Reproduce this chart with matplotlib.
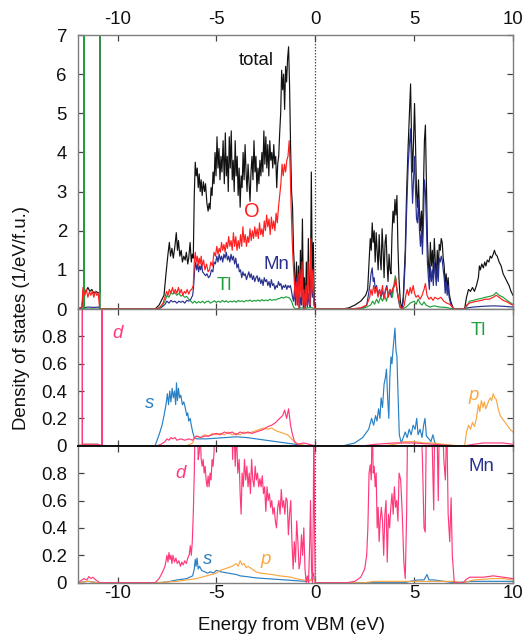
import numpy as np
import matplotlib
matplotlib.use("Agg")
import matplotlib.pyplot as plt

plt.rcParams['font.family'] = ['Liberation Sans', 'DejaVu Sans']
plt.rcParams['axes.unicode_minus'] = False

FS = 13.4

# ---------------- data (energy eV, DOS) ----------------
total = [(-12.0, 0.0), (-11.8, 0.05), (-11.72, 0.5), (-11.70, 0.5), (-11.70, 9.0), (-11.70, 0.5), (-11.6, 0.45), (-11.5, 0.55),
         (-11.4, 0.45), (-11.3, 0.5), (-11.2, 0.4), (-11.1, 0.45), (-11.0, 0.42), (-10.90, 0.4), (-10.90, 9.0),
         (-10.90, 0.0),
         (-8.10, 0.0), (-7.9, 0.1), (-7.75, 0.25), (-7.65, 0.35), (-7.55, 0.9), (-7.45, 1.4),
         (-7.38, 1.7), (-7.32, 1.35), (-7.25, 1.55), (-7.18, 1.3), (-7.10, 1.6), (-7.03, 1.95),
         (-6.97, 1.5), (-6.92, 1.75), (-6.85, 1.35), (-6.78, 1.5), (-6.72, 1.2), (-6.65, 1.35),
         (-6.58, 1.25), (-6.52, 1.45), (-6.45, 1.15), (-6.40, 1.3), (-6.33, 1.7), (-6.27, 1.2),
         (-6.22, 1.4), (-6.17, 1.3), (-6.12, 2.9), (-6.07, 3.75), (-6.02, 3.4), (-5.97, 3.6),
         (-5.92, 3.1), (-5.87, 3.45), (-5.82, 3.0), (-5.77, 3.3), (-5.72, 2.9), (-5.66, 3.25),
         (-5.60, 3.0), (-5.55, 3.2), (-5.48, 2.7), (-5.42, 2.5), (-5.37, 2.7), (-5.32, 2.55),
         (-5.27, 3.1), (-5.22, 2.9), (-5.17, 3.5), (-5.12, 3.2), (-5.07, 4.0), (-5.02, 3.4),
         (-4.97, 4.4), (-4.92, 3.6), (-4.87, 4.1), (-4.82, 3.3), (-4.77, 3.9), (-4.72, 3.5),
         (-4.66, 4.3), (-4.60, 3.2), (-4.55, 4.5), (-4.50, 3.4), (-4.45, 3.9), (-4.40, 3.0),
         (-4.35, 4.4), (-4.30, 3.6), (-4.25, 4.55), (-4.20, 3.3), (-4.15, 3.8), (-4.10, 3.0),
         (-4.05, 4.3), (-4.00, 3.4), (-3.95, 3.9), (-3.90, 2.9), (-3.85, 3.6), (-3.80, 2.6),
         (-3.75, 3.4), (-3.70, 3.1), (-3.65, 4.0), (-3.60, 3.3), (-3.55, 4.2), (-3.50, 3.5),
         (-3.45, 3.0), (-3.40, 3.7), (-3.35, 3.2), (-3.30, 2.75), (-3.25, 3.5), (-3.20, 3.9),
         (-3.15, 3.3), (-3.10, 4.3), (-3.05, 3.5), (-3.00, 3.9), (-2.95, 3.0), (-2.90, 3.6),
         (-2.85, 3.2), (-2.80, 3.8), (-2.75, 3.4), (-2.70, 4.0), (-2.65, 3.5), (-2.60, 4.55),
         (-2.55, 3.7), (-2.50, 4.4), (-2.45, 3.6), (-2.40, 4.2), (-2.35, 3.4), (-2.30, 4.3),
         (-2.25, 3.8), (-2.20, 4.0), (-2.15, 3.6), (-2.10, 4.2), (-2.05, 3.7), (-2.00, 3.9),
         (-1.95, 3.1), (-1.90, 3.7), (-1.85, 3.9), (-1.80, 4.5), (-1.75, 5.0), (-1.70, 6.1),
         (-1.65, 5.6), (-1.60, 6.0), (-1.55, 5.1), (-1.50, 6.2), (-1.45, 5.8), (-1.40, 6.4),
         (-1.35, 6.7), (-1.30, 5.7), (-1.25, 4.2), (-1.20, 3.0), (-1.15, 2.6), (-1.10, 1.5),
         (-1.05, 1.0), (-1.00, 0.3), (-0.95, 1.2), (-0.90, 0.2), (-0.85, 1.1), (-0.80, 0.0),
         (-0.75, 1.5), (-0.70, 0.5), (-0.65, 2.3), (-0.60, 0.2), (-0.55, 0.8), (-0.50, 0.0),
         (-0.45, 1.2), (-0.40, 0.1), (-0.35, 1.8), (-0.30, 0.5), (-0.25, 0.2), (-0.20, 3.5),
         (-0.15, 0.8), (-0.10, 1.7), (-0.05, 0.2), (0.00, 0.0),
         (1.40, 0.0), (1.7, 0.03), (2.0, 0.1), (2.3, 0.2), (2.55, 0.35), (2.65, 0.5), (2.72, 1.2),
         (2.78, 1.8), (2.83, 1.5), (2.88, 2.2), (2.93, 1.7), (2.98, 2.0), (3.03, 1.2), (3.08, 1.95),
         (3.13, 1.5), (3.18, 1.0), (3.23, 1.9), (3.28, 1.3), (3.33, 1.0), (3.38, 2.05), (3.43, 1.5),
         (3.48, 0.8), (3.53, 1.7), (3.58, 1.9), (3.63, 1.2), (3.68, 0.7), (3.73, 1.4), (3.78, 1.0),
         (3.83, 0.9), (3.88, 1.9), (3.93, 2.5), (3.98, 2.2), (4.03, 2.8), (4.08, 2.4), (4.13, 2.9),
         (4.18, 1.6), (4.23, 0.8), (4.30, 0.2), (4.38, 0.0), (4.45, 0.3), (4.55, 1.5), (4.62, 3.0),
         (4.70, 4.2), (4.76, 5.0), (4.82, 5.75), (4.87, 4.3), (4.92, 3.5), (4.97, 4.3), (5.02, 5.25),
         (5.07, 4.2), (5.12, 3.0), (5.17, 2.6), (5.22, 3.3), (5.27, 2.5), (5.32, 2.0), (5.37, 2.5),
         (5.42, 1.8), (5.47, 3.0), (5.52, 4.3), (5.57, 4.7), (5.62, 3.2), (5.67, 1.8), (5.72, 1.2),
         (5.77, 0.8), (5.82, 1.7), (5.87, 1.1), (5.92, 1.5), (5.97, 0.9), (6.02, 1.8), (6.07, 1.2),
         (6.12, 0.8), (6.17, 1.5), (6.22, 1.0), (6.27, 1.65), (6.32, 1.5), (6.37, 1.8), (6.42, 1.7),
         (6.47, 1.3), (6.52, 1.1), (6.57, 0.6), (6.62, 0.9), (6.67, 0.5), (6.72, 0.8), (6.77, 0.4),
         (6.85, 0.2), (6.95, 0.05), (7.00, 0.0), (7.55, 0.0), (7.65, 0.3), (7.75, 0.5), (7.85, 0.45),
         (7.95, 0.55), (8.05, 0.45), (8.15, 0.6), (8.25, 0.8), (8.30, 1.1), (8.35, 1.0), (8.42, 1.15),
         (8.50, 1.05), (8.57, 1.2), (8.63, 1.1), (8.70, 1.25), (8.78, 1.2), (8.85, 1.35), (8.92, 1.3),
         (9.00, 1.4), (9.06, 1.5), (9.12, 1.4), (9.20, 1.35), (9.30, 1.2), (9.40, 1.1), (9.50, 0.9),
         (9.60, 0.8), (9.70, 0.7), (9.80, 0.6), (9.90, 0.45), (10.0, 0.35)]

oxygen = [(-12.0, 0.0), (-11.8, 0.05), (-11.75, 0.55), (-11.65, 0.35), (-11.58, 0.5), (-11.5, 0.3),
          (-11.42, 0.45), (-11.35, 0.35), (-11.28, 0.45), (-11.2, 0.3), (-11.12, 0.45), (-11.05, 0.35),
          (-10.98, 0.4), (-10.9, 0.0),
          (-8.0, 0.0), (-7.85, 0.05), (-7.70, 0.15), (-7.60, 0.3), (-7.52, 0.45), (-7.45, 0.35),
          (-7.38, 0.5), (-7.30, 0.4), (-7.22, 0.55), (-7.15, 0.4), (-7.08, 0.5), (-7.00, 0.4),
          (-6.92, 0.55), (-6.85, 0.4), (-6.78, 0.5), (-6.70, 0.35), (-6.62, 0.45), (-6.55, 0.4),
          (-6.48, 0.5), (-6.40, 0.38), (-6.32, 0.48), (-6.25, 0.5), (-6.17, 0.6), (-6.12, 1.2),
          (-6.07, 1.45), (-6.02, 1.2), (-5.97, 1.35), (-5.92, 1.1), (-5.87, 1.3), (-5.82, 1.15),
          (-5.77, 1.35), (-5.72, 1.1), (-5.65, 1.25), (-5.58, 1.0), (-5.50, 1.15), (-5.42, 0.95),
          (-5.35, 1.0), (-5.28, 1.2), (-5.20, 1.1), (-5.12, 1.45), (-5.05, 1.35), (-4.98, 1.6),
          (-4.92, 1.4), (-4.86, 1.55), (-4.80, 1.45), (-4.74, 1.7), (-4.68, 1.5), (-4.62, 1.65),
          (-4.56, 1.45), (-4.50, 1.7), (-4.44, 1.55), (-4.38, 1.85), (-4.32, 1.6), (-4.26, 1.75),
          (-4.20, 1.5), (-4.14, 1.95), (-4.08, 1.6), (-4.02, 1.85), (-3.96, 1.5), (-3.90, 1.75),
          (-3.84, 1.55), (-3.78, 1.9), (-3.72, 1.6), (-3.66, 2.1), (-3.60, 1.7), (-3.54, 1.9),
          (-3.48, 1.6), (-3.42, 1.85), (-3.36, 1.7), (-3.30, 2.05), (-3.24, 1.75), (-3.18, 2.0),
          (-3.12, 1.8), (-3.06, 2.1), (-3.00, 1.85), (-2.94, 2.05), (-2.88, 1.8), (-2.82, 2.2),
          (-2.76, 1.9), (-2.70, 2.05), (-2.64, 1.85), (-2.58, 2.25), (-2.52, 2.0), (-2.46, 2.4),
          (-2.40, 2.1), (-2.34, 2.3), (-2.28, 1.9), (-2.22, 2.35), (-2.16, 2.05), (-2.10, 2.25),
          (-2.04, 2.0), (-1.98, 2.45), (-1.92, 2.2), (-1.86, 2.6), (-1.80, 2.9), (-1.74, 3.2),
          (-1.68, 3.7), (-1.62, 3.4), (-1.56, 3.7), (-1.50, 3.5), (-1.44, 3.8), (-1.38, 3.9),
          (-1.32, 4.3), (-1.27, 3.6), (-1.22, 2.6), (-1.17, 1.8), (-1.12, 1.2), (-1.07, 0.8),
          (-1.02, 0.3), (-0.97, 0.7), (-0.92, 0.1), (-0.87, 0.9), (-0.82, 0.0), (-0.77, 1.0),
          (-0.72, 0.3), (-0.67, 1.2), (-0.62, 0.1), (-0.57, 0.5), (-0.52, 0.0), (-0.47, 0.6),
          (-0.42, 0.1), (-0.37, 1.2), (-0.32, 0.3), (-0.27, 0.1), (-0.22, 1.8), (-0.17, 0.4),
          (-0.12, 1.0), (-0.07, 0.1), (0.0, 0.0),
          (1.8, 0.0), (2.3, 0.03), (2.6, 0.1), (2.75, 0.3), (2.82, 0.5), (2.88, 0.35), (2.95, 0.6),
          (3.02, 0.4), (3.10, 0.55), (3.17, 0.3), (3.25, 0.5), (3.32, 0.35), (3.40, 0.6), (3.47, 0.25),
          (3.55, 0.45), (3.62, 0.55), (3.70, 0.3), (3.78, 0.5), (3.85, 0.4), (3.93, 0.55), (4.00, 0.6),
          (4.07, 0.8), (4.13, 0.5), (4.20, 0.3), (4.30, 0.05), (4.40, 0.0), (4.50, 0.1), (4.58, 0.35),
          (4.65, 0.5), (4.72, 0.35), (4.80, 0.55), (4.87, 0.4), (4.95, 0.6), (5.02, 0.4), (5.10, 0.3),
          (5.20, 0.35), (5.30, 0.25), (5.40, 0.35), (5.50, 0.5), (5.57, 0.65), (5.65, 0.35), (5.75, 0.25),
          (5.85, 0.3), (5.95, 0.22), (6.05, 0.3), (6.20, 0.25), (6.35, 0.3), (6.50, 0.2), (6.65, 0.15),
          (6.80, 0.12), (6.95, 0.05), (7.05, 0.0), (7.55, 0.0), (7.65, 0.1), (7.8, 0.15), (8.0, 0.18),
          (8.2, 0.2), (8.4, 0.22), (8.6, 0.25), (8.8, 0.25), (9.0, 0.3), (9.15, 0.35), (9.3, 0.3),
          (9.5, 0.22), (9.7, 0.18), (9.9, 0.12), (10.0, 0.1)]

manganese = [(-12.0, 0.0), (-11.8, 0.02), (-11.5, 0.05), (-11.2, 0.04), (-10.95, 0.05), (-10.9, 0.0),
             (-8.0, 0.0), (-7.8, 0.03), (-7.6, 0.12), (-7.5, 0.2), (-7.4, 0.15), (-7.3, 0.22),
             (-7.2, 0.18), (-7.1, 0.2), (-7.0, 0.15), (-6.9, 0.2), (-6.8, 0.17), (-6.7, 0.2),
             (-6.6, 0.15), (-6.5, 0.22), (-6.4, 0.2), (-6.3, 0.25), (-6.2, 0.35), (-6.15, 0.6),
             (-6.10, 1.0), (-6.05, 1.2), (-6.00, 1.0), (-5.95, 1.15), (-5.90, 0.95), (-5.85, 1.1),
             (-5.80, 1.0), (-5.75, 1.15), (-5.70, 0.95), (-5.62, 0.9), (-5.55, 0.85), (-5.48, 0.9),
             (-5.40, 0.8), (-5.32, 0.85), (-5.25, 1.0), (-5.18, 0.95), (-5.12, 1.2), (-5.05, 1.15),
             (-4.98, 1.35), (-4.92, 1.2), (-4.86, 1.4), (-4.80, 1.25), (-4.74, 1.35), (-4.68, 1.2),
             (-4.62, 1.4), (-4.56, 1.3), (-4.50, 1.45), (-4.44, 1.25), (-4.38, 1.35), (-4.32, 1.2),
             (-4.26, 1.4), (-4.20, 1.25), (-4.14, 1.35), (-4.08, 1.15), (-4.02, 1.3), (-3.96, 1.05),
             (-3.90, 1.15), (-3.84, 0.95), (-3.78, 1.0), (-3.72, 0.8), (-3.66, 0.95), (-3.60, 0.85),
             (-3.54, 0.9), (-3.48, 0.75), (-3.42, 0.85), (-3.36, 0.95), (-3.30, 0.8), (-3.24, 0.9),
             (-3.18, 0.75), (-3.12, 0.85), (-3.06, 0.7), (-3.00, 0.8), (-2.94, 0.85), (-2.88, 0.7),
             (-2.82, 0.8), (-2.76, 0.65), (-2.70, 0.75), (-2.64, 0.6), (-2.58, 0.8), (-2.52, 0.7),
             (-2.46, 0.75), (-2.40, 0.6), (-2.34, 0.7), (-2.28, 0.55), (-2.22, 0.75), (-2.16, 0.6),
             (-2.10, 0.65), (-2.04, 0.5), (-1.98, 0.6), (-1.92, 0.55), (-1.86, 0.7), (-1.80, 0.6),
             (-1.74, 0.65), (-1.68, 0.5), (-1.62, 0.6), (-1.56, 0.55), (-1.50, 0.62), (-1.44, 0.5),
             (-1.38, 0.6), (-1.32, 0.55), (-1.26, 0.6), (-1.20, 0.45), (-1.15, 0.3), (-1.10, 0.2),
             (-1.05, 0.5), (-1.00, 0.1), (-0.95, 0.8), (-0.90, 0.1), (-0.85, 0.6), (-0.80, 0.0),
             (-0.75, 0.3), (-0.70, 0.1), (-0.65, 0.9), (-0.60, 0.0), (-0.55, 0.3), (-0.50, 0.0),
             (-0.45, 0.5), (-0.40, 0.05), (-0.35, 0.4), (-0.30, 0.1), (-0.25, 0.05), (-0.20, 1.2),
             (-0.15, 0.3), (-0.10, 0.5), (-0.05, 0.1), (0.0, 0.0),
             (2.0, 0.0), (2.4, 0.03), (2.6, 0.1), (2.70, 0.4), (2.76, 0.6), (2.82, 0.9), (2.88, 1.05),
             (2.93, 0.7), (2.98, 0.8), (3.03, 0.5), (3.10, 0.6), (3.17, 0.35), (3.25, 0.5), (3.32, 0.3),
             (3.40, 0.45), (3.48, 0.3), (3.55, 0.5), (3.62, 0.6), (3.70, 0.35), (3.78, 0.45), (3.85, 0.3),
             (3.93, 0.5), (4.00, 0.6), (4.07, 0.7), (4.13, 0.5), (4.20, 0.25), (4.28, 0.05), (4.38, 0.0),
             (4.45, 0.2), (4.55, 1.2), (4.62, 2.5), (4.70, 3.7), (4.76, 4.2), (4.82, 4.6), (4.87, 3.5),
             (4.92, 2.7), (4.97, 3.3), (5.02, 3.9), (5.07, 3.0), (5.12, 2.3), (5.17, 2.2), (5.22, 2.8),
             (5.27, 2.0), (5.32, 1.6), (5.37, 2.0), (5.42, 1.4), (5.47, 2.2), (5.52, 3.3), (5.57, 3.0),
             (5.62, 2.2), (5.67, 1.2), (5.72, 0.8), (5.77, 0.5), (5.82, 1.1), (5.87, 0.7), (5.92, 1.0),
             (5.97, 0.6), (6.02, 1.2), (6.07, 0.9), (6.12, 0.6), (6.17, 1.1), (6.22, 0.7), (6.27, 1.3),
             (6.32, 1.2), (6.37, 1.35), (6.42, 1.25), (6.47, 1.0), (6.52, 0.8), (6.57, 0.4), (6.62, 0.7),
             (6.67, 0.35), (6.72, 0.6), (6.77, 0.3), (6.85, 0.12), (6.95, 0.03), (7.00, 0.0), (7.55, 0.0),
             (7.7, 0.03), (8.0, 0.05), (8.5, 0.07), (9.0, 0.08), (9.5, 0.07), (10.0, 0.05)]

thallium = [(-12.0, 0.0), (-11.70, 0.0), (-11.70, 9.0), (-11.70, 0.0), (-10.90, 0.0), (-10.90, 9.0),
            (-10.90, 0.0),
            (-8.0, 0.0), (-7.8, 0.05), (-7.6, 0.2), (-7.5, 0.35), (-7.4, 0.3), (-7.3, 0.42), (-7.2, 0.38),
            (-7.1, 0.42), (-7.0, 0.35), (-6.9, 0.4), (-6.8, 0.33), (-6.7, 0.35), (-6.6, 0.3), (-6.5, 0.32),
            (-6.4, 0.25), (-6.3, 0.2), (-6.2, 0.15), (-6.1, 0.2), (-6.0, 0.15), (-5.9, 0.19), (-5.8, 0.16),
            (-5.7, 0.2), (-5.6, 0.15), (-5.5, 0.19), (-5.4, 0.2), (-5.3, 0.15), (-5.2, 0.18), (-5.1, 0.21),
            (-5.0, 0.17), (-4.9, 0.2), (-4.8, 0.17), (-4.7, 0.22), (-4.6, 0.18), (-4.5, 0.21), (-4.4, 0.17),
            (-4.3, 0.2), (-4.2, 0.18), (-4.1, 0.21), (-4.0, 0.17), (-3.9, 0.22), (-3.8, 0.19), (-3.7, 0.21),
            (-3.6, 0.18), (-3.5, 0.22), (-3.4, 0.2), (-3.3, 0.23), (-3.2, 0.19), (-3.1, 0.22), (-3.0, 0.2),
            (-2.9, 0.23), (-2.8, 0.2), (-2.7, 0.24), (-2.6, 0.21), (-2.5, 0.23), (-2.4, 0.21), (-2.3, 0.25),
            (-2.2, 0.22), (-2.1, 0.24), (-2.0, 0.23), (-1.9, 0.26), (-1.8, 0.27), (-1.7, 0.3), (-1.6, 0.28),
            (-1.5, 0.31), (-1.4, 0.3), (-1.3, 0.28), (-1.2, 0.2), (-1.1, 0.05), (-1.0, 0.0), (-0.7, 0.03),
            (-0.5, 0.02), (-0.2, 0.04), (0.0, 0.0),
            (2.3, 0.0), (2.6, 0.05), (2.8, 0.1), (2.9, 0.2), (3.0, 0.12), (3.1, 0.25), (3.2, 0.15),
            (3.3, 0.3), (3.4, 0.2), (3.5, 0.35), (3.6, 0.2), (3.7, 0.4), (3.8, 0.5), (3.9, 0.3),
            (4.0, 0.7), (4.05, 0.85), (4.1, 0.6), (4.2, 0.3), (4.3, 0.05), (4.4, 0.0), (4.6, 0.05),
            (4.8, 0.15), (5.0, 0.2), (5.1, 0.12), (5.2, 0.25), (5.3, 0.15), (5.4, 0.1), (5.5, 0.18),
            (5.6, 0.1), (5.8, 0.05), (6.0, 0.08), (6.3, 0.05), (6.6, 0.04), (7.0, 0.0), (7.55, 0.0),
            (7.7, 0.1), (7.8, 0.2), (8.0, 0.22), (8.2, 0.25), (8.4, 0.27), (8.6, 0.3), (8.8, 0.32),
            (9.0, 0.35), (9.15, 0.42), (9.3, 0.35), (9.5, 0.3), (9.7, 0.22), (9.9, 0.15), (10.0, 0.12)]

# Tl projected (s, p, d)
tl_s = [(-12.0, 0.0), (-11.8, 0.01), (-11.0, 0.01), (-10.8, 0.0),
        (-8.1, 0.0), (-7.9, 0.08), (-7.75, 0.15), (-7.65, 0.22), (-7.55, 0.3), (-7.48, 0.38),
        (-7.42, 0.3), (-7.36, 0.4), (-7.30, 0.32), (-7.24, 0.42), (-7.18, 0.35), (-7.12, 0.4),
        (-7.06, 0.3), (-7.02, 0.46), (-6.97, 0.33), (-6.92, 0.42), (-6.86, 0.35), (-6.80, 0.37),
        (-6.72, 0.3), (-6.65, 0.32), (-6.58, 0.28), (-6.50, 0.22), (-6.45, 0.24), (-6.40, 0.18),
        (-6.33, 0.2), (-6.27, 0.15), (-6.20, 0.1), (-6.12, 0.06), (-6.0, 0.05), (-5.5, 0.05),
        (-5.0, 0.055), (-4.5, 0.06), (-4.0, 0.065), (-3.5, 0.06), (-3.0, 0.05), (-2.5, 0.04),
        (-2.0, 0.03), (-1.5, 0.02), (-1.0, 0.01), (-0.5, 0.0), (0.0, 0.0),
        (1.43, 0.0), (2.0, 0.02), (2.4, 0.06), (2.7, 0.12), (2.85, 0.2), (2.95, 0.15), (3.05, 0.22),
        (3.12, 0.18), (3.2, 0.27), (3.27, 0.2), (3.33, 0.35), (3.40, 0.28), (3.48, 0.45), (3.55, 0.5),
        (3.60, 0.56), (3.66, 0.35), (3.72, 0.2), (3.77, 0.5), (3.83, 0.65), (3.88, 0.6), (3.93, 0.7),
        (3.98, 0.78), (4.03, 0.86), (4.08, 0.7), (4.13, 0.65), (4.18, 0.4), (4.25, 0.08), (4.35, 0.02),
        (4.45, 0.06), (4.55, 0.1), (4.65, 0.06), (4.75, 0.12), (4.85, 0.08), (4.95, 0.15), (5.05, 0.12),
        (5.13, 0.2), (5.2, 0.08), (5.3, 0.12), (5.4, 0.06), (5.48, 0.15), (5.55, 0.2), (5.62, 0.07),
        (5.75, 0.05), (5.85, 0.03), (5.95, 0.08), (6.05, 0.02), (6.2, 0.0), (10.0, 0.0)]

tl_p = [(-12.0, 0.0), (-11.8, 0.01), (-11.0, 0.01), (-10.8, 0.0),
        (-6.5, 0.0), (-6.2, 0.02), (-6.1, 0.06), (-6.0, 0.07), (-5.8, 0.06), (-5.6, 0.08), (-5.4, 0.07),
        (-5.2, 0.09), (-5.0, 0.08), (-4.8, 0.09), (-4.6, 0.08), (-4.4, 0.1), (-4.2, 0.08), (-4.0, 0.09),
        (-3.8, 0.08), (-3.6, 0.1), (-3.4, 0.09), (-3.2, 0.1), (-3.0, 0.11), (-2.8, 0.12), (-2.6, 0.13),
        (-2.4, 0.12), (-2.2, 0.13), (-2.0, 0.11), (-1.8, 0.1), (-1.6, 0.09), (-1.4, 0.08), (-1.2, 0.05),
        (-1.0, 0.02), (-0.8, 0.01), (-0.5, 0.0), (0.0, 0.0),
        (3.5, 0.0), (4.0, 0.01), (4.5, 0.03), (5.0, 0.03), (5.5, 0.02), (6.0, 0.02), (6.5, 0.01),
        (7.2, 0.0), (7.55, 0.0), (7.65, 0.1), (7.75, 0.15), (7.85, 0.12), (7.95, 0.17), (8.05, 0.14),
        (8.15, 0.2), (8.25, 0.3), (8.32, 0.25), (8.40, 0.33), (8.48, 0.28), (8.55, 0.32), (8.62, 0.27),
        (8.70, 0.3), (8.78, 0.33), (8.85, 0.35), (8.92, 0.33), (9.00, 0.38), (9.07, 0.35), (9.15, 0.34),
        (9.25, 0.27), (9.35, 0.22), (9.45, 0.2), (9.55, 0.18), (9.7, 0.15), (9.85, 0.12), (10.0, 0.1)]

tl_d = [(-12.0, 0.0), (-11.78, 0.0), (-11.78, 1.5), (-11.78, 0.01), (-11.5, 0.01), (-11.0, 0.01),
        (-10.78, 0.0), (-10.78, 1.5), (-10.78, 0.0),
        (-8.0, 0.0), (-7.8, 0.01), (-7.6, 0.03), (-7.5, 0.05), (-7.4, 0.04), (-7.3, 0.06), (-7.2, 0.05),
        (-7.1, 0.06), (-7.0, 0.04), (-6.8, 0.05), (-6.6, 0.04), (-6.4, 0.05), (-6.2, 0.04), (-6.1, 0.06),
        (-6.0, 0.07), (-5.8, 0.06), (-5.6, 0.07), (-5.4, 0.07), (-5.2, 0.08), (-5.0, 0.09), (-4.8, 0.08),
        (-4.6, 0.1), (-4.4, 0.09), (-4.2, 0.1), (-4.0, 0.08), (-3.8, 0.1), (-3.6, 0.09), (-3.4, 0.1),
        (-3.2, 0.09), (-3.0, 0.1), (-2.8, 0.11), (-2.6, 0.12), (-2.4, 0.14), (-2.2, 0.15), (-2.0, 0.17),
        (-1.8, 0.2), (-1.65, 0.22), (-1.55, 0.26), (-1.45, 0.2), (-1.35, 0.27), (-1.25, 0.15),
        (-1.15, 0.08), (-1.05, 0.03), (-0.9, 0.01), (-0.6, 0.02), (-0.3, 0.01), (0.0, 0.0),
        (2.5, 0.0), (3.0, 0.01), (4.0, 0.02), (5.0, 0.02), (6.0, 0.01), (7.0, 0.0), (7.6, 0.0),
        (8.0, 0.01), (8.5, 0.02), (9.0, 0.02), (9.5, 0.02), (10.0, 0.01)]

# Mn projected (s, p, d)
mn_s = [(-12.0, 0.0), (-11.5, 0.01), (-11.0, 0.0),
        (-8.0, 0.0), (-7.5, 0.005), (-7.0, 0.02), (-6.5, 0.03), (-6.2, 0.05), (-6.12, 0.1), (-6.07, 0.17),
        (-6.03, 0.12), (-5.98, 0.18), (-5.92, 0.1), (-5.85, 0.12), (-5.75, 0.09), (-5.6, 0.08),
        (-5.45, 0.07), (-5.3, 0.08), (-5.15, 0.07), (-5.0, 0.09), (-4.8, 0.08), (-4.6, 0.075),
        (-4.4, 0.07), (-4.2, 0.065), (-4.0, 0.06), (-3.8, 0.05), (-3.5, 0.045), (-3.0, 0.035),
        (-2.5, 0.03), (-2.0, 0.025), (-1.5, 0.02), (-1.0, 0.015), (-0.5, 0.01), (-0.2, 0.02),
        (-0.1, 0.07), (-0.05, 0.02), (0.0, 0.0),
        (4.5, 0.0), (4.8, 0.01), (5.2, 0.02), (5.5, 0.02), (5.65, 0.06), (5.75, 0.02), (6.0, 0.02),
        (6.5, 0.01), (7.0, 0.0), (8.0, 0.01), (9.0, 0.01), (10.0, 0.01)]

mn_p = [(-12.0, 0.0), (-11.5, 0.01), (-11.0, 0.0),
        (-8.0, 0.0), (-7.5, 0.005), (-7.0, 0.01), (-6.5, 0.02), (-6.0, 0.03), (-5.5, 0.05), (-5.0, 0.07),
        (-4.8, 0.09), (-4.6, 0.1), (-4.4, 0.11), (-4.2, 0.12), (-4.0, 0.14), (-3.9, 0.12), (-3.8, 0.16),
        (-3.7, 0.13), (-3.6, 0.14), (-3.5, 0.11), (-3.4, 0.12), (-3.2, 0.1), (-3.0, 0.08), (-2.8, 0.07),
        (-2.5, 0.065), (-2.2, 0.06), (-2.0, 0.055), (-1.8, 0.05), (-1.5, 0.045), (-1.2, 0.04),
        (-1.0, 0.03), (-0.6, 0.02), (-0.3, 0.01), (-0.1, 0.04), (0.0, 0.0),
        (2.5, 0.0), (3.0, 0.01), (5.0, 0.01), (7.0, 0.01), (7.5, 0.0), (8.0, 0.02), (9.0, 0.03),
        (9.5, 0.03), (10.0, 0.02)]

mn_d = [(-12.0, 0.0), (-11.9, 0.01), (-11.7, 0.03), (-11.55, 0.02), (-11.45, 0.045), (-11.35, 0.03),
        (-11.25, 0.04), (-11.1, 0.02), (-10.9, 0.0),
        (-8.1, 0.0), (-7.9, 0.03), (-7.75, 0.07), (-7.6, 0.12), (-7.5, 0.2), (-7.45, 0.15), (-7.40, 0.22),
        (-7.35, 0.17), (-7.30, 0.2), (-7.25, 0.14), (-7.20, 0.2), (-7.12, 0.15), (-7.05, 0.18),
        (-6.98, 0.14), (-6.90, 0.16), (-6.82, 0.12), (-6.75, 0.15), (-6.68, 0.13), (-6.60, 0.16),
        (-6.52, 0.14), (-6.45, 0.18), (-6.38, 0.2), (-6.32, 0.27), (-6.27, 0.2), (-6.22, 0.3),
        (-6.17, 0.5), (-6.12, 0.8), (-6.07, 1.2), (-6.02, 1.1), (-5.97, 1.2), (-5.92, 0.9),
        (-5.87, 0.95), (-5.82, 1.1), (-5.77, 0.9), (-5.72, 0.85), (-5.67, 0.9), (-5.62, 0.8),
        (-5.57, 0.85), (-5.52, 0.75), (-5.47, 0.7), (-5.42, 0.78), (-5.37, 0.7), (-5.32, 0.8),
        (-5.27, 0.75), (-5.22, 0.9), (-5.17, 0.85), (-5.12, 0.95), (-5.07, 1.3), (-5.0, 1.5),
        (-4.8, 1.6), (-4.6, 1.7), (-4.4, 1.6), (-4.25, 1.4), (-4.18, 0.9), (-4.12, 1.2), (-4.05, 0.85),
        (-3.98, 1.1), (-3.92, 0.8), (-3.85, 0.9), (-3.80, 0.65), (-3.75, 0.5), (-3.70, 0.8),
        (-3.64, 0.7), (-3.58, 0.9), (-3.52, 0.75), (-3.46, 0.85), (-3.40, 0.7), (-3.34, 0.8),
        (-3.28, 0.65), (-3.22, 0.9), (-3.16, 0.75), (-3.10, 0.7), (-3.04, 0.85), (-2.98, 0.75),
        (-2.92, 0.8), (-2.86, 0.7), (-2.80, 0.76), (-2.74, 0.7), (-2.68, 0.78), (-2.62, 0.65),
        (-2.56, 0.7), (-2.50, 0.52), (-2.44, 0.7), (-2.38, 0.6), (-2.32, 0.65), (-2.26, 0.55),
        (-2.20, 0.6), (-2.14, 0.5), (-2.08, 0.55), (-2.02, 0.45), (-1.96, 0.4), (-1.90, 0.55),
        (-1.84, 0.6), (-1.78, 0.5), (-1.72, 0.68), (-1.66, 0.55), (-1.60, 0.6), (-1.54, 0.5),
        (-1.48, 0.62), (-1.42, 0.6), (-1.36, 0.35), (-1.30, 0.5), (-1.24, 0.6), (-1.18, 0.3),
        (-1.12, 0.1), (-1.06, 0.3), (-1.00, 0.15), (-0.94, 0.45), (-0.88, 0.3), (-0.82, 0.1),
        (-0.76, 0.15), (-0.70, 0.35), (-0.64, 0.2), (-0.58, 0.4), (-0.52, 0.1), (-0.46, 0.0),
        (-0.40, 0.05), (-0.34, 0.0), (-0.28, 0.3), (-0.24, 0.6), (-0.19, 0.1), (-0.14, 0.0),
        (-0.10, 0.5), (-0.07, 1.3), (-0.03, 0.3), (0.0, 0.0),
        (1.6, 0.0), (2.0, 0.01), (2.3, 0.04), (2.5, 0.1), (2.6, 0.2), (2.66, 0.4), (2.72, 0.8),
        (2.78, 0.86), (2.83, 0.75), (2.88, 1.2), (2.93, 0.8), (2.98, 0.85), (3.03, 0.7), (3.08, 0.8),
        (3.13, 0.4), (3.18, 0.55), (3.23, 0.3), (3.28, 0.45), (3.34, 0.55), (3.40, 0.45), (3.46, 0.2),
        (3.52, 0.5), (3.58, 0.6), (3.64, 0.15), (3.70, 0.5), (3.76, 0.4), (3.82, 0.55), (3.88, 0.65),
        (3.94, 0.5), (4.00, 0.7), (4.06, 0.55), (4.12, 0.6), (4.18, 0.45), (4.24, 0.8), (4.32, 0.75),
        (4.40, 0.5), (4.48, 0.15), (4.55, 0.03), (4.62, 0.5), (4.68, 1.3), (4.75, 1.5), (5.0, 1.6),
        (5.3, 1.4), (5.42, 0.9), (5.50, 0.4), (5.56, 0.37), (5.62, 1.2), (5.75, 1.5), (5.90, 1.1),
        (5.99, 0.53), (6.05, 1.3), (6.15, 1.2), (6.22, 0.6), (6.28, 1.3), (6.40, 1.4), (6.50, 0.9),
        (6.58, 0.75), (6.65, 1.2), (6.72, 0.5), (6.80, 0.3), (6.87, 0.62), (6.93, 0.2), (7.03, 0.0),
        (7.5, 0.0), (7.6, 0.02), (7.8, 0.04), (8.5, 0.04), (9.0, 0.05), (9.5, 0.04), (10.0, 0.03)]

xticks = [-10, -5, 0, 5, 10]
top_yticks = [0, 1, 2, 3, 4, 5, 6, 7]
pdos_yticks = [0, 0.2, 0.4, 0.6, 0.8]

C_TOT = '#111111'
C_O = '#ff1f1f'
C_MN = '#28308f'
C_TL = '#1fa03c'
C_S = '#2a80c4'
C_P = '#f9a743'
C_D = '#ff3a7a'
SPINE = '#7f7f7f'

fig = plt.figure(figsize=(5.28, 6.37), dpi=100)
L, R = 78 / 528, 513 / 528
def fy(p):
    return 1 - p / 637
ax1 = fig.add_axes([L, fy(309), R - L, fy(35) - fy(309)])
ax2 = fig.add_axes([L, fy(445.7), R - L, fy(309) - fy(445.7)])
ax3 = fig.add_axes([L, fy(582.7), R - L, fy(445.7) - fy(582.7)])

def xy(data):
    a = np.array(data, dtype=float)
    return a[:, 0], a[:, 1]

lw = 0.85
for d, c in [(total, C_TOT), (manganese, C_MN), (thallium, C_TL), (oxygen, C_O)]:
    ax1.plot(*xy(d), color=c, lw=lw)
for d, c in [(tl_s, C_S), (tl_p, C_P), (tl_d, C_D)]:
    ax2.plot(*xy(d), color=c, lw=lw)
for d, c in [(mn_s, C_S), (mn_p, C_P), (mn_d, C_D)]:
    ax3.plot(*xy(d), color=c, lw=lw)

for ax in (ax1, ax2, ax3):
    ax.set_xlim(-12, 10)
    ax.set_xticks(xticks)
    ax.axvline(0, color='#555555', lw=0.9, ls=(0, (1.2, 1.2)), zorder=0.5)
    for s in ax.spines.values():
        s.set_color(SPINE)
        s.set_linewidth(1.0)
    ax.tick_params(direction='in', length=4.5, width=0.9, color='#444444',
                   top=True, right=True, labelsize=FS, labelcolor='#111111')

ax1.set_ylim(0, 7)
ax1.set_yticks(top_yticks)
ax1.tick_params(axis='x', labeltop=True, labelbottom=False, pad=5)
ax1.tick_params(axis='y', pad=8)

ax2.set_ylim(0, 1.0)
ax2.set_yticks(pdos_yticks)
ax2.set_yticklabels(['0', '0.2', '0.4', '0.6', '0.8'])
ax2.tick_params(axis='x', labelbottom=False)
ax2.tick_params(axis='y', pad=8)
ax2.spines['bottom'].set_color('#111111')
ax2.spines['bottom'].set_linewidth(1.4)

ax3.set_ylim(0, 1.0)
ax3.set_yticks(pdos_yticks)
ax3.set_yticklabels(['0', '0.2', '0.4', '0.6', '0.8'])
ax3.tick_params(axis='x', pad=1.5)
ax3.tick_params(axis='y', pad=8)
ax3.spines['top'].set_color('#111111')
ax3.spines['top'].set_linewidth(1.4)

# labels inside panels
ax1.text(-3.0, 6.36, 'total', color=C_TOT, fontsize=FS, ha='center', va='center')
ax1.text(-3.2, 2.49, 'O', color=C_O, fontsize=FS + 1, ha='center', va='center')
ax1.text(-1.94, 1.14, 'Mn', color=C_MN, fontsize=FS, ha='center', va='center')
ax1.text(-4.6, 0.6, 'Tl', color=C_TL, fontsize=FS, ha='center', va='center')

ax2.text(-10.0, 0.82, 'd', color=C_D, fontsize=FS, style='italic', ha='center', va='center')
ax2.text(-8.4, 0.31, 's', color=C_S, fontsize=FS, style='italic', ha='center', va='center')
ax2.text(8.25, 0.84, 'Tl', color=C_TL, fontsize=FS, ha='center', va='center')
ax2.text(8.0, 0.37, 'p', color=C_P, fontsize=FS, style='italic', ha='center', va='center')

ax3.text(-6.8, 0.80, 'd', color=C_D, fontsize=FS, style='italic', ha='center', va='center')
ax3.text(-5.44, 0.17, 's', color=C_S, fontsize=FS, style='italic', ha='center', va='center')
ax3.text(-2.5, 0.17, 'p', color=C_P, fontsize=FS, style='italic', ha='center', va='center')
ax3.text(8.4, 0.85, 'Mn', color=C_MN, fontsize=FS, ha='center', va='center')

fig.text(22 / 528, fy(318), 'Density of states (1/eV/f.u.)', rotation=90, fontsize=FS,
         ha='center', va='center', color='#111111')
fig.text(292 / 528, fy(626), 'Energy from VBM (eV)', fontsize=FS, ha='center', va='center',
         color='#111111')

fig.savefig('out.png', dpi=100)
